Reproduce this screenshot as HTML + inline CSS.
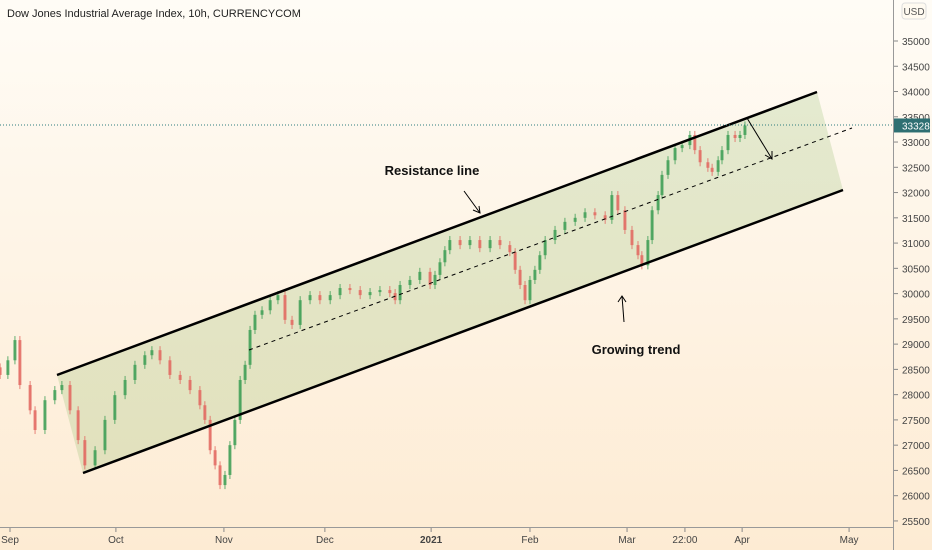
<!DOCTYPE html>
<html><head><meta charset="utf-8">
<style>
html,body{margin:0;padding:0;width:932px;height:550px;overflow:hidden;font-family:"Liberation Sans",sans-serif}
#wrap{position:relative;width:932px;height:550px;background:linear-gradient(#fffcf6,#fdebd3)}
svg{position:absolute;left:0;top:0}
</style></head>
<body>
<div id="wrap">
<svg id="chart" width="932" height="550">
  <g id="ann">
    <polygon points="57,375 817,92 843,190 83,473" fill="rgba(120,175,80,0.2)"/>
  </g>
  <g id="candles"></g>
  <g>
    <line x1="57" y1="375" x2="817" y2="92" stroke="#000" stroke-width="2.5"/>
    <line x1="83" y1="473" x2="843" y2="190" stroke="#000" stroke-width="2.5"/>
    <line x1="249" y1="350" x2="852" y2="128" stroke="#000" stroke-width="1" stroke-dasharray="4,4"/>
    <line x1="0" y1="125" x2="893" y2="125" stroke="#2e7d7d" stroke-width="1" stroke-dasharray="1,2"/>
    <line x1="747" y1="118" x2="772" y2="159" stroke="#000" stroke-width="1"/>
    <polyline points="765,155 772,159 772,151" fill="none" stroke="#000" stroke-width="1"/>
    <text x="432" y="175" font-size="13" font-weight="bold" text-anchor="middle" fill="#111">Resistance line</text>
    <line x1="464" y1="191" x2="480" y2="213" stroke="#000" stroke-width="1"/>
    <polyline points="473,210 480,213 479,206" fill="none" stroke="#000" stroke-width="1"/>
    <text x="636" y="354" font-size="13" font-weight="bold" text-anchor="middle" fill="#111">Growing trend</text>
    <line x1="624" y1="322" x2="622" y2="296" stroke="#000" stroke-width="1"/>
    <polyline points="618,302 622,296 626,302" fill="none" stroke="#000" stroke-width="1"/>
  </g>
  <line x1="893.5" y1="0" x2="893.5" y2="550" stroke="#999" stroke-width="1"/>
  <line x1="0" y1="527.5" x2="893" y2="527.5" stroke="#999" stroke-width="1"/>
  <g id="yaxis"></g>
  <g id="xaxis"></g>
  <rect x="902" y="3" width="24" height="16" rx="3" fill="#fffaf0" stroke="#ddd"/>
  <text x="914" y="15" font-size="10" fill="#555" text-anchor="middle">USD</text>
  <text x="7" y="17" font-size="11" fill="#222">Dow Jones Industrial Average Index, 10h, CURRENCYCOM</text>
</svg>
</div>
<script>
const days=[-2.8,-0.6,1.4,2.8,5.7,7.1,9.9,12.7,14.7,17.0,19.3,21.2,24.1,26.9,29.7,32.6,35.4,38.2,40.2,42.5,45.3,48.2,51.0,53.8,55.2,56.7,58.1,59.5,60.9,62.3,63.7,65.2,66.6,68.0,69.4,71.4,73.7,75.9,77.9,79.9,82.2,85.0,87.8,90.7,93.5,96.3,99.2,102.0,104.8,107.6,109.1,110.5,113.3,116.1,119.0,120.4,121.8,123.2,124.6,127.5,130.3,133.1,136.0,138.8,141.6,143.1,144.5,145.9,147.3,148.7,150.1,151.6,154.4,157.2,160.1,162.9,165.7,168.6,170.5,172.2,174.2,176.2,177.9,179.0,180.7,181.9,183.6,184.7,186.4,188.4,190.4,192.6,194.0,195.5,197.7,198.9,200.6,201.7,203.4,205.4,206.8,208.2];
const closes=[28390,28680,29080,28190,27690,27300,27890,28090,28190,27690,27100,26600,26900,27500,27990,28290,28590,28780,28880,28680,28390,28290,28090,27790,27500,26900,26600,26210,26410,27000,27500,28290,28590,29280,29580,29670,29870,29970,29480,29380,29870,29970,29870,29970,30110,30070,29970,30030,30070,30010,29870,30170,30270,30430,30170,30370,30620,30860,31060,30960,31060,30900,31060,30960,30820,30470,30170,29870,30270,30470,30760,31060,31260,31420,31500,31610,31550,31460,31950,31650,31260,30960,30760,30560,31060,31650,31950,32350,32640,32880,32940,33140,32840,32600,32490,32410,32640,32840,33140,33080,33140,33328];
const priceTicks=[35000,34500,34000,33500,33000,32500,32000,31500,31000,30500,30000,29500,29000,28500,28000,27500,27000,26500,26000,25500];
const timeLabels=["Sep","Oct","Nov","Dec","2021","Feb","Mar","22:00","Apr","May"];
const timeDays=[0,30,60.6,89.2,119.3,147.3,174.8,191.2,207.4,237.7];
const NS="http://www.w3.org/2000/svg";
function xS(d){return 10+d*3.53;}
function yS(p){return 41+(35000-p)/500*25.26;}
function mk(t,a,parent){const e=document.createElementNS(NS,t);for(const k in a)e.setAttribute(k,a[k]);parent.appendChild(e);return e;}
const cg=document.getElementById('candles');
for(let i=0;i<closes.length;i++){
  const o=i?closes[i-1]:closes[0]+150, c=closes[i];
  const up=c>=o, col=up?'#3c9d54':'#e2665f';
  const x=xS(days[i]);
  const w=mk('line',{x1:x,x2:x,y1:yS(Math.max(o,c)+80),y2:yS(Math.min(o,c)-80),stroke:col,'stroke-width':1,opacity:0.8},cg);
  
  
  const y1=yS(Math.max(o,c)),y2=yS(Math.min(o,c));
  const r=mk('rect',{x:x-1.5,y:y1,width:3,height:Math.max(1,y2-y1),fill:col,opacity:0.8},cg);
  
  
}
const ya=document.getElementById('yaxis');
priceTicks.forEach(p=>{
  const y=yS(p);
  const l=mk('line',{x1:894,x2:898,y1:y,y2:y,stroke:'#888'},ya);
  
  
  const t=mk('text',{x:902,y:y+4,'font-size':10,fill:'#444'},ya);
  t.textContent=p;
  
  
});
const lastP=closes[closes.length-1];
const tag=mk('rect',{x:894,y:yS(lastP)-7,width:36,height:14,fill:'#2e6f72'},ya);


const tt=mk('text',{x:902,y:yS(lastP)+4,'font-size':10,fill:'#fff'},ya);
tt.textContent=lastP;


const xa=document.getElementById('xaxis');
timeLabels.forEach((s,i)=>{
  const x=xS(timeDays[i]);
  const l=mk('line',{x1:x,x2:x,y1:528,y2:532,stroke:'#888'},xa);
  
  
  const t=mk('text',{x:x,y:543,'font-size':10,fill:'#444','text-anchor':'middle','font-weight':s==='2021'?'bold':'normal'},xa);
  t.textContent=s;
  
  
});
</script>
</body></html>
